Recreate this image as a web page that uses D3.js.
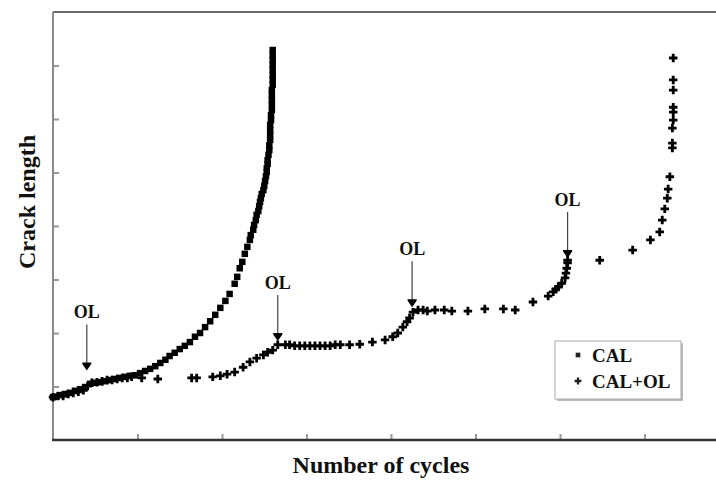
<!DOCTYPE html>
<html>
<head>
<meta charset="utf-8">
<script src="https://cdn.jsdelivr.net/npm/d3@7"></script>
<style>
  html, body { margin: 0; padding: 0; background: #fff; }
  svg { display: block; }
</style>
</head>
<body>
<svg id="chart" width="716" height="480"></svg>
<script>
// Crack length vs number of cycles (arbitrary units, 1 unit per tick)

// Constant-amplitude loading
const calX = [0.00,0.04,0.08,0.14,0.20,0.26,0.32,0.38,0.44,0.50,0.56,0.62,0.67,0.73,0.79,0.85,0.91,0.97,1.03,1.09,1.15,1.21,1.27,1.33,1.38,1.44,1.50,1.56,1.62,1.68,1.74,1.80,1.86,1.92,1.98,2.04,2.09,2.15,2.18,2.21,2.24,2.27,2.30,
  2.33,2.34,2.37,2.38,2.40,2.41,2.43,2.44,2.45,2.46,2.47,2.49,2.50,2.51,2.52,2.53,2.53,2.54,2.54,2.55,2.56,2.56,2.57,2.57,2.57,2.57,2.58,2.58,2.59,2.59,2.59,2.59,2.59,2.60,2.60,2.60,2.60,2.60,2.60,2.60,2.60];
const calY = [0.80,0.81,0.84,0.86,0.88,0.92,0.95,0.99,1.05,1.07,1.08,1.10,1.12,1.14,1.16,1.18,1.20,1.21,1.25,1.29,1.33,1.38,1.44,1.50,1.57,1.63,1.70,1.76,1.83,1.93,2.00,2.11,2.22,2.34,2.47,2.60,2.73,2.92,3.05,3.21,3.33,3.48,3.61,
  3.74,3.83,3.93,4.02,4.11,4.21,4.28,4.37,4.45,4.52,4.60,4.67,4.75,4.84,4.93,5.01,5.08,5.16,5.23,5.33,5.42,5.51,5.61,5.70,5.79,5.89,5.98,6.07,6.17,6.26,6.36,6.45,6.54,6.64,6.73,6.82,6.92,7.01,7.10,7.20,7.29];

// Same loading with periodic overloads
const olX = [0.00,0.06,0.12,0.18,0.24,0.30,0.36,0.41,0.46,0.52,0.58,0.64,0.70,0.76,0.82,0.88,0.93,1.05,1.24,1.64,1.70,1.89,1.98,2.06,2.15,2.25,2.33,2.41,2.49,2.54,2.60,2.66,
  2.75,2.80,2.86,2.92,2.98,3.04,3.10,3.16,3.22,3.28,3.34,3.40,3.51,3.63,3.78,3.93,4.02,4.08,4.14,4.19,4.22,4.26,
  4.32,4.38,4.43,4.52,4.63,4.72,4.91,5.11,5.33,5.47,5.68,5.86,5.92,5.95,5.98,6.02,6.06,6.07,6.08,6.09,6.09,
  6.47,6.86,7.07,7.18,7.21,7.24,7.27,7.28,7.30,7.33,7.33,7.33,7.34,7.34,7.34,7.34,7.34,7.34];
const olY = [0.80,0.82,0.82,0.86,0.88,0.90,0.93,1.01,1.07,1.08,1.10,1.12,1.12,1.14,1.16,1.16,1.18,1.16,1.14,1.16,1.16,1.18,1.20,1.23,1.27,1.36,1.46,1.53,1.59,1.64,1.68,1.78,
  1.78,1.78,1.76,1.76,1.76,1.76,1.76,1.76,1.76,1.76,1.78,1.78,1.78,1.79,1.83,1.87,1.93,2.00,2.11,2.21,2.28,2.39,
  2.43,2.43,2.41,2.43,2.43,2.41,2.41,2.45,2.45,2.43,2.58,2.69,2.77,2.82,2.86,2.93,3.03,3.12,3.21,3.31,3.36,
  3.36,3.55,3.74,3.89,4.11,4.32,4.52,4.69,4.92,5.46,5.55,5.83,5.98,6.13,6.22,6.54,6.73,7.14];

// Overload events: cycle position and crack length where each was applied
const overloadX = [0.40, 2.66, 4.25, 6.09];
const overloadY = [1.30, 1.85, 2.48, 3.40];

const seriesNames = ["CAL", "CAL+OL"];
const yTickValues = [1, 2, 3, 4, 5, 6, 7];
const xTickValues = [1, 2, 3, 4, 5, 6, 7];

const W = 716, H = 480;
const svg = d3.select("#chart");
const x = d3.scaleLinear().domain([0, 8]).range([53, 729]);
const y = d3.scaleLinear().domain([0, 8]).range([440, 12]);
const serif = "'Liberation Serif', 'Times New Roman', serif";

// Frame: top border, left axis, bottom axis
svg.append("line").attr("x1", x(0)).attr("x2", W).attr("y1", y(8)).attr("y2", y(8))
  .attr("stroke", "#6a6a6a").attr("stroke-width", 2);

const yAxis = svg.append("g").attr("transform", `translate(${x(0)},0)`)
  .call(d3.axisLeft(y).tickValues(yTickValues).tickSize(-6).tickFormat(""));
yAxis.select(".domain").remove();
yAxis.selectAll(".tick line").attr("stroke", "#999").attr("stroke-width", 2);

const xAxis = svg.append("g").attr("transform", `translate(0,${y(0)})`)
  .call(d3.axisBottom(x).tickValues(xTickValues).tickSize(-6).tickFormat(""));
xAxis.select(".domain").remove();
xAxis.selectAll(".tick line").attr("stroke", "#999").attr("stroke-width", 2);

svg.append("line").attr("x1", x(0)).attr("x2", x(0)).attr("y1", y(8)).attr("y2", y(0))
  .attr("stroke", "#8a8a8a").attr("stroke-width", 2);
svg.append("line").attr("x1", x(0) - 1).attr("x2", W).attr("y1", y(0)).attr("y2", y(0))
  .attr("stroke", "#333").attr("stroke-width", 2.5);

// Axis titles
svg.append("text").attr("x", 381).attr("y", 473).attr("text-anchor", "middle")
  .attr("font-family", serif).attr("font-weight", "bold").attr("font-size", 24)
  .attr("fill", "#111").text("Number of cycles");
svg.append("text").attr("transform", "translate(35,202) rotate(-90)").attr("text-anchor", "middle")
  .attr("font-family", serif).attr("font-weight", "bold").attr("font-size", 24)
  .attr("fill", "#111").text("Crack length");

// Data markers
const square = d3.symbol().type(d3.symbolSquare).size(42);
const cross = d3.symbol().type(d3.symbolCross).size(40);

svg.append("g").selectAll("path").data(d3.range(calX.length)).join("path")
  .attr("transform", i => `translate(${x(calX[i])},${y(calY[i])})`)
  .attr("d", square).attr("fill", "#000");

svg.append("g").selectAll("path").data(d3.range(olX.length)).join("path")
  .attr("transform", i => `translate(${x(olX[i])},${y(olY[i])})`)
  .attr("d", cross).attr("fill", "#000");

// Overload annotations
const ann = svg.append("g").selectAll("g").data(d3.range(overloadX.length)).join("g")
  .attr("transform", i => `translate(${x(overloadX[i])},${y(overloadY[i])})`);
ann.append("line").attr("x1", 0).attr("x2", 0).attr("y1", -46).attr("y2", -6)
  .attr("stroke", "#444").attr("stroke-width", 1.2);
ann.append("path").attr("d", "M-4.5,-8 L4.5,-8 L4.5,-6.5 L0,0 L-4.5,-6.5 Z").attr("fill", "#000");
ann.append("text").attr("x", 0).attr("y", -52).attr("text-anchor", "middle")
  .attr("font-family", serif).attr("font-weight", "bold").attr("font-size", 18)
  .attr("fill", "#111").text("OL");

// Legend
const lg = svg.append("g").attr("transform", "translate(555,341)");
lg.append("rect").attr("x", 2).attr("y", 2).attr("width", 126).attr("height", 58).attr("fill", "#bbb");
lg.append("rect").attr("x", 0).attr("y", 0).attr("width", 126).attr("height", 58)
  .attr("fill", "#fff").attr("stroke", "#aaa").attr("stroke-width", 1);
const items = lg.selectAll("g").data(seriesNames).join("g")
  .attr("transform", (d, i) => `translate(0,${14 + i * 26})`);
items.append("path").attr("transform", "translate(23,0)")
  .attr("d", (d, i) => i === 0 ? d3.symbol().type(d3.symbolSquare).size(22)() : d3.symbol().type(d3.symbolCross).size(26)())
  .attr("fill", "#222");
items.append("text").attr("x", 37).attr("y", 7).attr("font-family", serif).attr("font-weight", "bold")
  .attr("font-size", 19).attr("fill", "#111").text(d => d);
</script>
</body>
</html>
